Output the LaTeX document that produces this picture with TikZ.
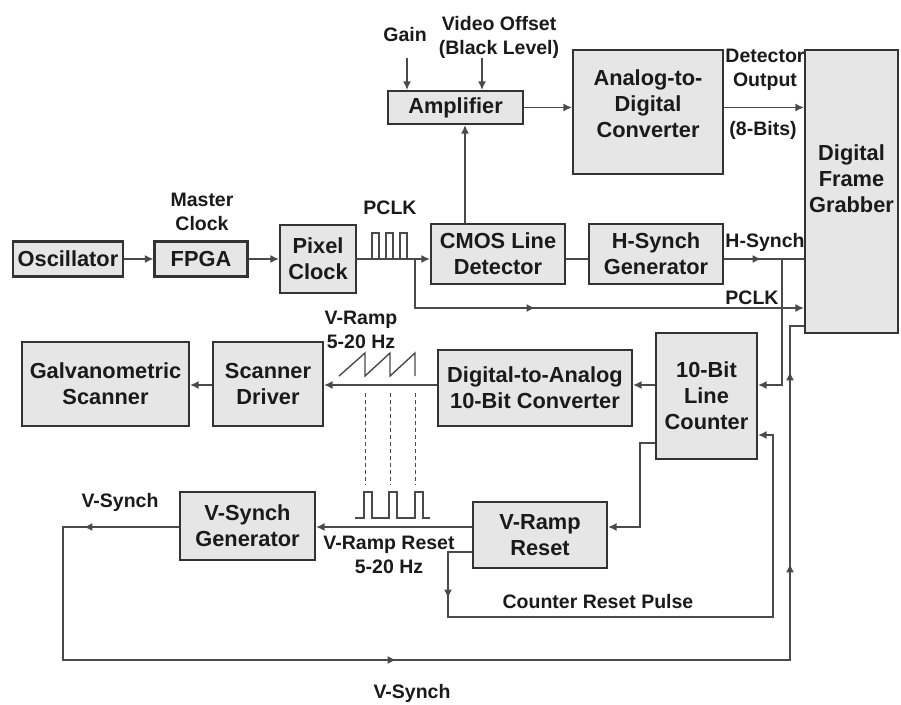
\documentclass[tikz,border=0pt]{standalone}
\usepackage{fontspec}
\setmainfont{Liberation Sans}
\usetikzlibrary{arrows.meta,decorations.markings,calc}
\definecolor{boxfill}{HTML}{E6E6E6}
\definecolor{boxline}{HTML}{333333}
\definecolor{wirec}{HTML}{4A4A4A}
\definecolor{txtc}{HTML}{1A1A1A}
\begin{document}
\begin{tikzpicture}[x=1pt,y=-1pt,
  box/.style={draw=boxline,fill=boxfill,line width=2.2pt,inner sep=0pt,align=center,text=txtc,font=\fontsize{21.8}{26}\selectfont\bfseries},
  boxtext/.style={inner sep=0pt,align=center,text=txtc,font=\fontsize{21.8}{26}\selectfont\bfseries},
  txt/.style={inner sep=0pt,align=center,text=txtc,font=\fontsize{19.5}{24}\selectfont\bfseries},
  wire/.style={draw=wirec,line width=1.4pt},
  tip/.tip={Latex[length=8.5pt,width=8pt]},
  arr/.style={wire,-tip},
  sig/.style={draw=wirec,line width=1.4pt},
  guide/.style={draw=wirec,line width=1pt,dashed,dash pattern=on 4pt off 3pt}
]
\useasboundingbox (0,0) rectangle (901,704);

% ---------- boxes ----------
\node[box,minimum width=110,minimum height=35] (osc) at (68,259) {Oscillator};
\node[box,minimum width=93,minimum height=35] (fpga) at (201,259) {FPGA};
\node[box,minimum width=76,minimum height=68] (pix) at (318,259) {Pixel\\Clock};
\node[box,minimum width=134,minimum height=60] (cmos) at (498,254) {CMOS Line\\Detector};
\node[box,minimum width=134,minimum height=60] (hsg) at (656,254) {H-Synch\\Generator};
\node[box,minimum width=135,minimum height=33] (amp) at (455.5,107.5) {Amplifier};
\node[box,minimum width=150,minimum height=124] (adc) at (648,112) {};
\node[boxtext] (adct) at (648,104) {Analog-to-\\Digital\\Converter};
\node[box,minimum width=93,minimum height=283] (gfg) at (851.5,191.5) {};
\node[boxtext] (gfgt) at (851.5,179) {Digital\\Frame\\Grabber};
\node[box,minimum width=167,minimum height=84] (galv) at (105.5,384) {Galvanometric\\Scanner};
\node[box,minimum width=110,minimum height=84] (sdrv) at (268,384) {Scanner\\Driver};
\node[box,minimum width=194,minimum height=76] (dac) at (535,388) {Digital-to-Analog\\10-Bit Converter};
\node[box,minimum width=101,minimum height=126] (lcnt) at (706.5,396) {10-Bit\\Line\\Counter};
\node[box,minimum width=134,minimum height=66] (vrr) at (540,535) {V-Ramp\\Reset};
\node[box,minimum width=135,minimum height=68] (vsg) at (247.5,526) {V-Synch\\Generator};

% ---------- helper coordinates ----------
\coordinate (rowA) at (0,259);
\coordinate (rowB) at (0,385);
\coordinate (rowC) at (0,527);
\coordinate (rowD) at (0,443);
\coordinate (rowF) at (0,552);
\coordinate (rowH) at (0,617);
\coordinate (rowJ) at (0,435);
\coordinate (rowL) at (0,660);
\coordinate (rowN) at (0,326);
\coordinate (rowP) at (0,308);
\coordinate (colU) at (465,0);
\coordinate (colE) at (640,0);
\coordinate (colG) at (448,0);
\coordinate (colI) at (773,0);
\coordinate (colK) at (63,0);
\coordinate (colM) at (790,0);
\coordinate (pbr) at (415,259);
\coordinate (hbr) at (782,259);
\coordinate (gainin) at (407,58);
\coordinate (vofin) at (482,58);

% ---------- connectors ----------
\draw[arr] (osc) -- (fpga);
\draw[arr] (fpga) -- (pix);
\draw[arr] (pix.east) -- (cmos.west |- rowA);
\draw[wire] (cmos.east |- rowA) -- (hsg.west |- rowA);
\draw[wire,postaction={decorate},decoration={markings,mark=at position 37pt with {\arrow{tip}}}]
  (hsg.east |- rowA) -- (gfg.west |- rowA);
\draw[arr] (hbr) |- (lcnt.east |- rowB);
\draw[wire,-tip,postaction={decorate},decoration={markings,mark=at position 169pt with {\arrow{tip}}}]
  (pbr) |- (gfg.west |- rowP);

\draw[arr] (gainin) -- (gainin |- amp.north);
\draw[arr] (vofin) -- (vofin |- amp.north);
\draw[arr] (cmos.north -| colU) -- (amp.south -| colU);
\draw[arr] (amp.east) -- (amp.east -| adc.west);
\draw[arr] (adc.east |- amp.east) -- (gfg.west |- amp.east);

\draw[arr] (lcnt.west |- rowB) -- (dac.east |- rowB);
\draw[arr] (dac.west |- rowB) -- (sdrv.east |- rowB);
\draw[arr] (sdrv.west |- rowB) -- (galv.east |- rowB);

\draw[arr] (lcnt.west |- rowD) -- (colE |- rowD) -- (colE |- rowC) -- (vrr.east |- rowC);
\draw[arr] (vrr.west |- rowC) -- (vsg.east |- rowC);

\draw[wire,-tip,postaction={decorate},decoration={markings,mark=at position 70pt with {\arrow{tip}}}]
  (vrr.west |- rowF) -- (colG |- rowF) -- (colG |- rowH) -- (colI |- rowH) -- (colI |- rowJ) -- (lcnt.east |- rowJ);

\draw[wire,postaction={decorate},decoration={markings,
    mark=at position 95pt with {\arrow{tip}},
    mark=at position 582pt with {\arrow{tip}},
    mark=at position 1072pt with {\arrow{tip}},
    mark=at position 1264pt with {\arrow{tip}}}]
  (vsg.west |- rowC) -- (colK |- rowC) -- (colK |- rowL) -- (colM |- rowL) -- (colM |- rowN) -- (gfg.west |- rowN);

% ---------- waveforms ----------
\draw[sig] (356,259) -- (372,259) -- (372,233) -- (379,233) -- (379,259)
  -- (386,259) -- (386,233) -- (393,233) -- (393,259)
  -- (400,259) -- (400,233) -- (407,233) -- (407,259);
\draw[sig] (339,376) -- (365,353) -- (365,376) -- (390,353) -- (390,376) -- (415,353) -- (415,376);
\draw[sig] (355,518) -- (364,518) -- (364,492) -- (372,492) -- (372,518)
  -- (389,518) -- (389,492) -- (397,492) -- (397,518)
  -- (415,518) -- (415,492) -- (423,492) -- (423,518) -- (430,518);
\draw[guide] (365,393) -- (365,485);
\draw[guide] (390,393) -- (390,485);
\draw[guide] (415,393) -- (415,485);

% ---------- labels ----------
\node[txt] (lmc) at (202,212) {Master\\Clock};
\node[txt] (lpclk1) at (390,208) {PCLK};
\node[txt] (lpclk2) at (752,298) {PCLK};
\node[txt] (lhs) at (765,242) {H-Synch};
\node[txt] (lgain) at (405,35) {Gain};
\node[txt] (lvo) at (499,37) {Video Offset\\(Black Level)};
\node[txt] (ldo) at (765,70) {Detector\\Output};
\node[txt] (l8b) at (763,130) {(8-Bits)};
\node[txt] (lvr) at (361,330) {V-Ramp\\5-20 Hz};
\node[txt] (lvrr) at (389,555) {V-Ramp Reset\\5-20 Hz};
\node[txt] (lvs1) at (120,502) {V-Synch};
\node[txt] (lvs2) at (412,693) {V-Synch};
\node[txt] (lcrp) at (598,602) {Counter Reset Pulse};
\end{tikzpicture}
\end{document}
